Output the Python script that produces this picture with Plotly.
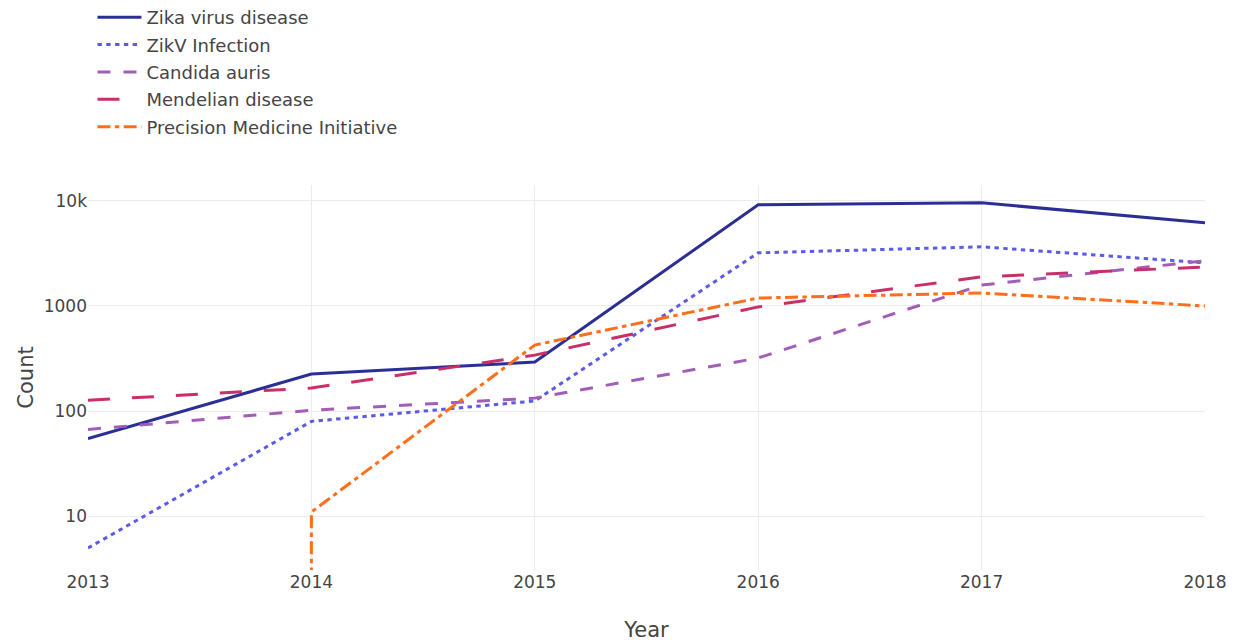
import plotly.graph_objects as go

years = [2013, 2014, 2015, 2016, 2017, 2018]
zika_virus_disease = [55, 225, 293, 9170, 9570, 6170]
zikv_infection = [5, 80, 125, 3200, 3650, 2570]
candida_auris = [67, 102, 133, 320, 1580, 2690]
mendelian_disease = [127, 166, 341, 980, 1890, 2350]
precision_medicine = [0, 11, 425, 1190, 1330, 1000]

series = [
    ("Zika virus disease", zika_virus_disease, "#2b2f95", "solid"),
    ("ZikV Infection", zikv_infection, "#5b5be8", "4.4px,4.4px"),
    ("Candida auris", candida_auris, "#a25db8", "13px,13px"),
    ("Mendelian disease", mendelian_disease, "#c8306a", "22px,22px"),
    ("Precision Medicine Initiative", precision_medicine, "#ff6e1a", "13px,4.4px,4.4px,4.4px"),
]

fig = go.Figure()
for i, (name, vals, color, dash) in enumerate(series):
    fig.add_trace(go.Scatter(x=years, y=vals, name=name, mode="lines", legendgroup=f"g{i}",
                             line=dict(color=color, dash=dash, width=3)))

fig.update_layout(
    template="plotly_white",
    width=1240, height=634,
    font=dict(family="DejaVu Sans", size=17, color="#444"),
    margin=dict(l=80, r=43, t=177, b=72, autoexpand=False),
    legend=dict(x=0.004, y=1.104, xanchor="left", yanchor="bottom", font=dict(size=18),
                itemwidth=44, tracegroupgap=1),
    xaxis=dict(title=dict(text="Year", font=dict(size=21), standoff=36), tickmode="array",
               tickvals=years, ticktext=[str(y) for y in years], range=[2013, 2018],
               showgrid=True, gridcolor="#ebebeb"),
    yaxis=dict(title=dict(text="Count", font=dict(size=21), standoff=4), type="log",
               range=[0.49, 4.15], tickvals=[10, 100, 1000, 10000],
               ticktext=["10", "100", "1000", "10k"], gridcolor="#ebebeb"),
)
fig.write_html("out.html")
